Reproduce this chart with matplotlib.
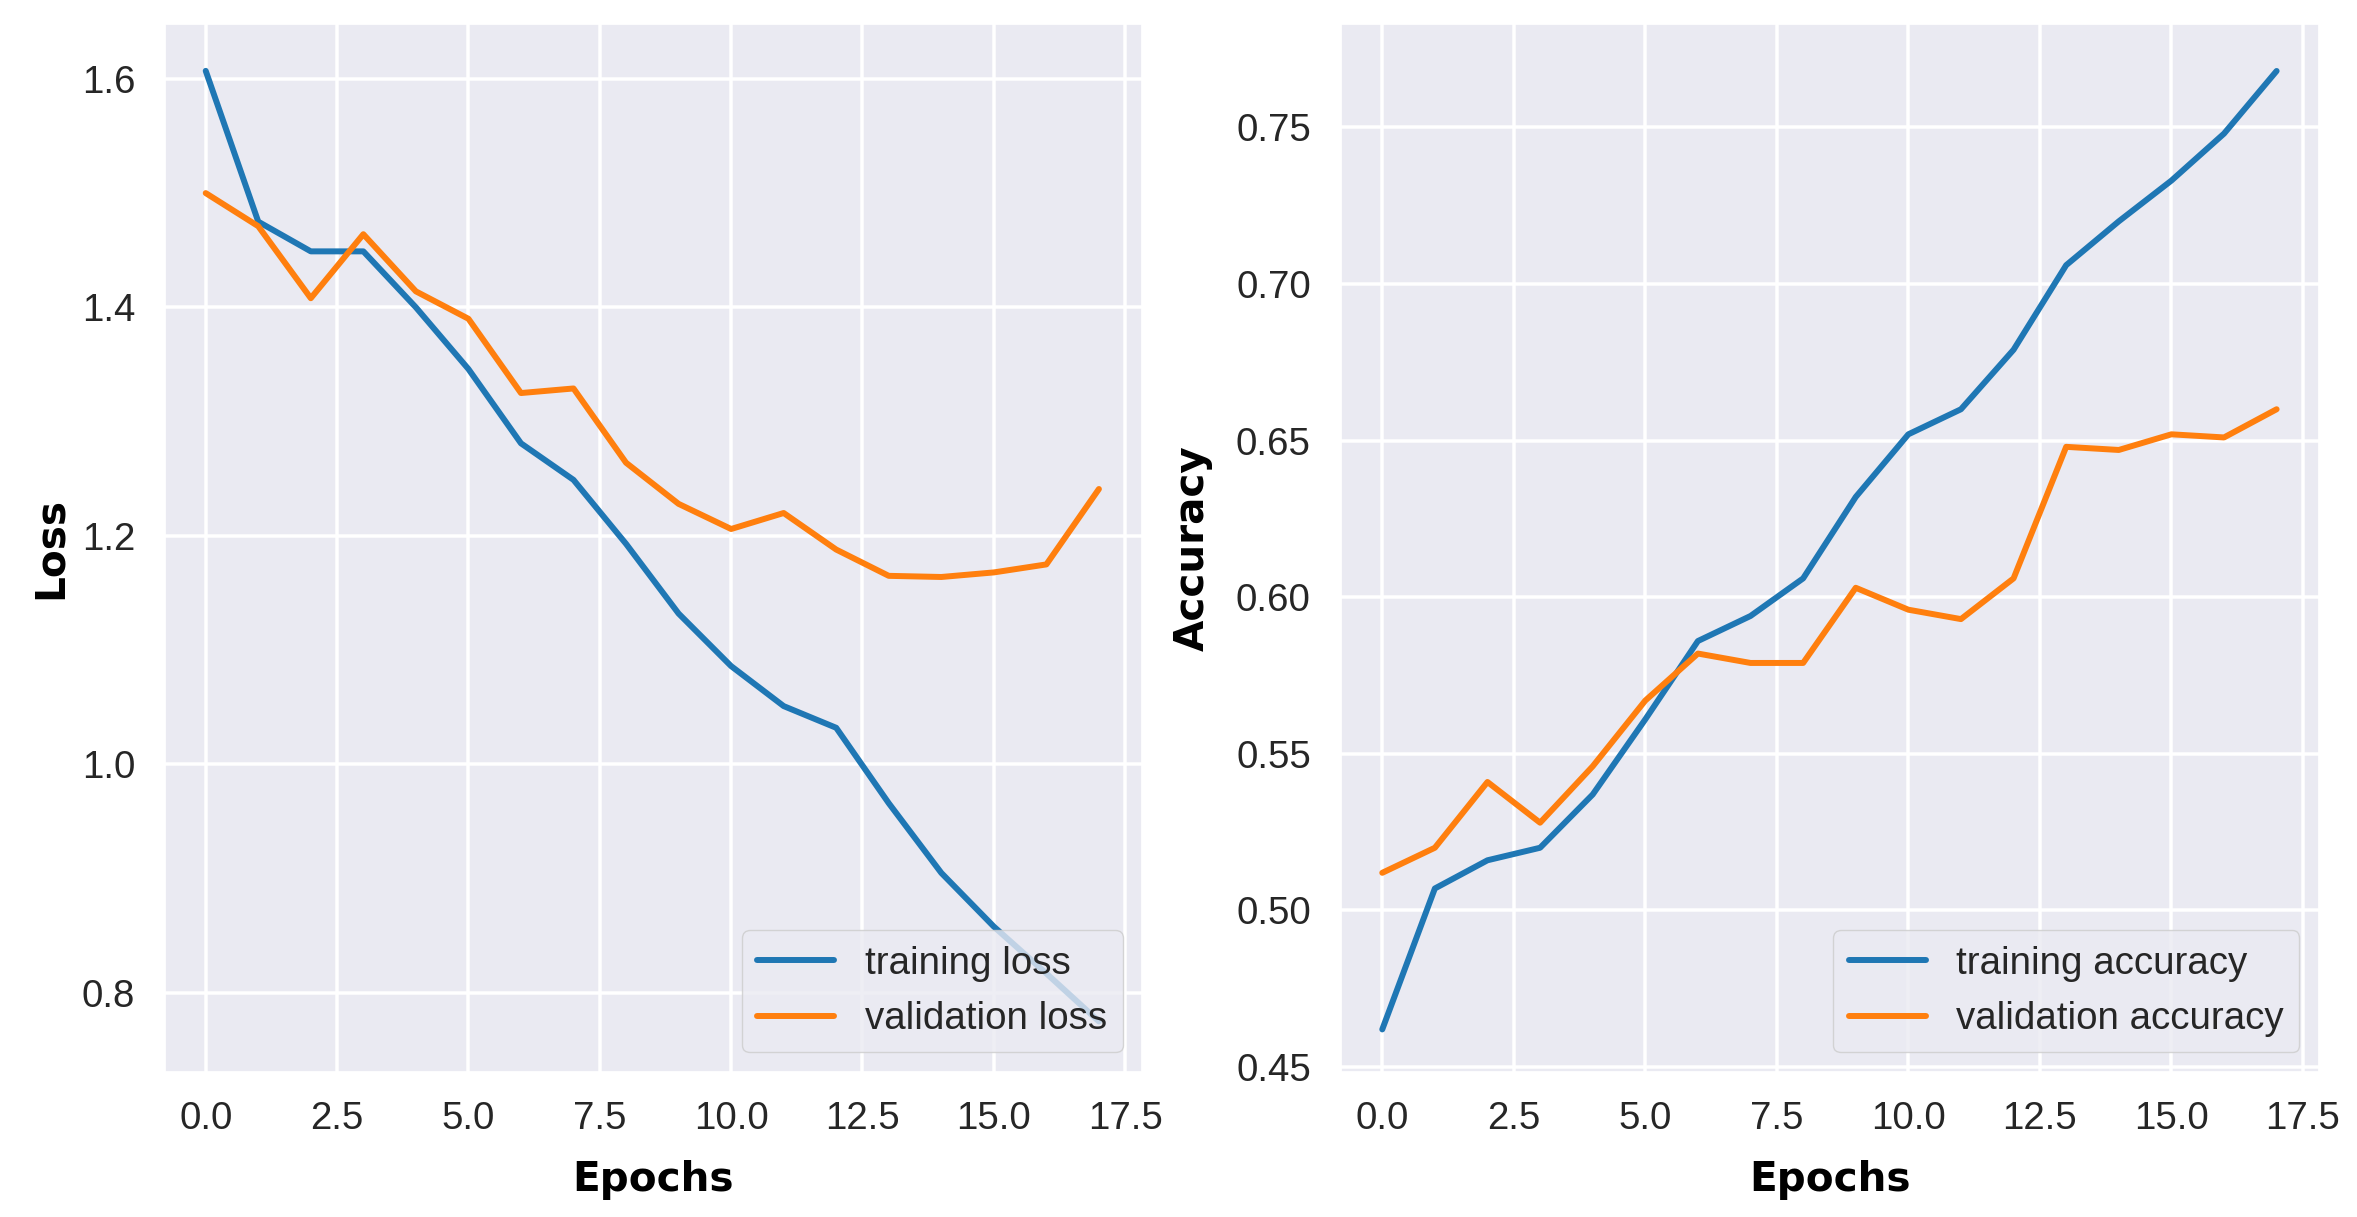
import matplotlib
matplotlib.use("Agg")
import matplotlib.pyplot as plt
import seaborn as sns
import numpy as np

epochs = list(range(18))
train_loss = [1.607, 1.475, 1.449, 1.449, 1.400, 1.346, 1.281, 1.249, 1.193,
              1.132, 1.086, 1.051, 1.032, 0.966, 0.905, 0.858, 0.817, 0.775]
val_loss = [1.500, 1.471, 1.408, 1.464, 1.414, 1.390, 1.325, 1.329, 1.264,
            1.228, 1.206, 1.220, 1.188, 1.165, 1.164, 1.168, 1.175, 1.241]
train_acc = [0.462, 0.507, 0.516, 0.520, 0.537, 0.561, 0.586, 0.594, 0.606,
             0.632, 0.652, 0.660, 0.679, 0.706, 0.720, 0.733, 0.748, 0.768]
val_acc = [0.512, 0.520, 0.541, 0.528, 0.546, 0.567, 0.582, 0.579, 0.579,
           0.603, 0.596, 0.593, 0.606, 0.648, 0.647, 0.652, 0.651, 0.660]

sns.set_theme(style="darkgrid")
plt.rcParams['font.family'] = ['Liberation Sans', 'DejaVu Sans']

S = 2.52
tick_fs = 11 * S
label_fs = 29.2
lw = 4.3

fig = plt.figure(figsize=(23.57, 12.17), dpi=100)
ax1 = fig.add_axes([165/2357, 1 - 1071.7/1217, (1142-165)/2357, (1071.7-24)/1217])
ax2 = fig.add_axes([1340.7/2357, 1 - 1071.7/1217, (2318.7-1340.7)/2357, (1071.7-24)/1217])

label_font = dict(family='DejaVu Sans', weight='bold', size=label_fs, color='black')

def style(ax):
    ax.grid(True, color='white', linewidth=1.0 * S)
    ax.tick_params(axis='both', labelsize=tick_fs, length=0, labelcolor='#262626')
    ax.tick_params(axis='x', pad=21)
    ax.tick_params(axis='y', pad=21.5)
    ax.xaxis.set_major_locator(matplotlib.ticker.MultipleLocator(2.5))
    ax.xaxis.set_major_formatter(matplotlib.ticker.FormatStrFormatter('%.1f'))

ax1.plot(epochs, train_loss, color='#1f77b4', lw=lw, label='training loss')
ax1.plot(epochs, val_loss, color='#ff7f0e', lw=lw, label='validation loss')
style(ax1)
ax1.set_xlim(-0.775, 17.82)
ax1.set_ylim(0.731, 1.648)
ax1.set_yticks([0.8, 1.0, 1.2, 1.4, 1.6])
ax1.yaxis.set_major_formatter(matplotlib.ticker.FormatStrFormatter('%.1f'))
ax1.set_xlabel('Epochs', fontdict=label_font, labelpad=17)
ax1.set_ylabel('Loss', fontdict=label_font, labelpad=7.5)
ax1.legend(loc='lower right', fontsize=tick_fs, framealpha=0.8,
           edgecolor='#cccccc', facecolor='#EAEAF2')

ax2.plot(epochs, train_acc, color='#1f77b4', lw=lw, label='training accuracy')
ax2.plot(epochs, val_acc, color='#ff7f0e', lw=lw, label='validation accuracy')
style(ax2)
ax2.set_xlim(-0.79, 17.80)
ax2.set_ylim(0.4485, 0.783)
ax2.set_yticks([0.45, 0.50, 0.55, 0.60, 0.65, 0.70, 0.75])
ax2.yaxis.set_major_formatter(matplotlib.ticker.FormatStrFormatter('%.2f'))
ax2.set_xlabel('Epochs', fontdict=label_font, labelpad=17)
ax2.set_ylabel('Accuracy', fontdict=label_font, labelpad=16.8)
ax2.legend(loc='lower right', fontsize=tick_fs, framealpha=0.8,
           edgecolor='#cccccc', facecolor='#EAEAF2')

fig.savefig('out.png', dpi=100)
